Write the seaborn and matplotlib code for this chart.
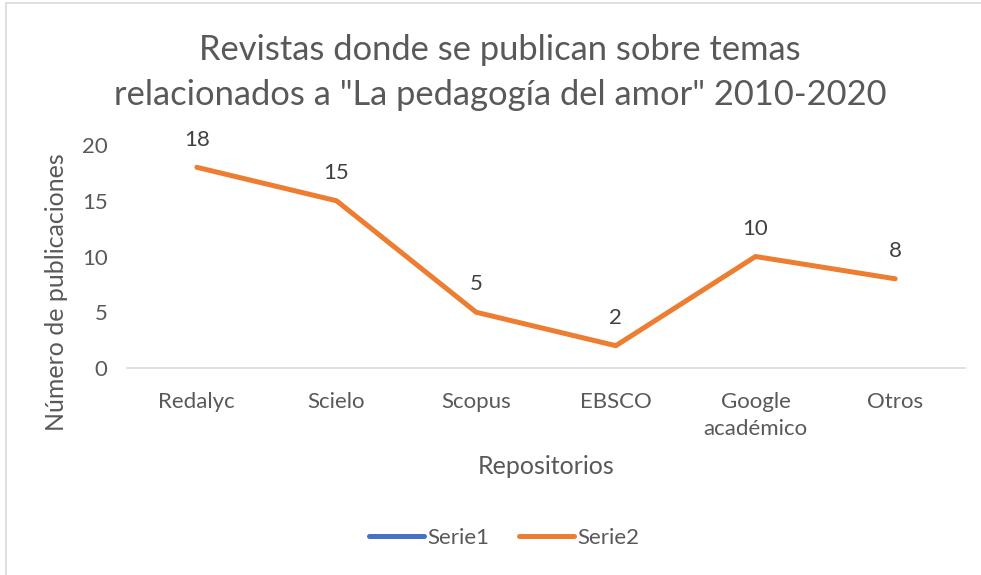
import pandas as pd
import seaborn as sns
import matplotlib.pyplot as plt
from matplotlib.lines import Line2D
from matplotlib.patches import Rectangle

# Data
repositorios = ['Redalyc', 'Scielo', 'Scopus', 'EBSCO', 'Google\nacadémico', 'Otros']
serie1 = []  # empty series, only shown in the legend
serie2 = [18, 15, 5, 2, 10, 8]

df = pd.DataFrame({'repo': repositorios, 'valor': serie2})

sns.set_style('white')
plt.rcParams['font.family'] = ['Lato', 'DejaVu Sans']

gray = '#595959'
orange = '#ED7D31'
blue = '#4472C4'

fig = plt.figure(figsize=(9.81, 5.75), dpi=100)
ax = fig.add_axes([0.1295, 0.36, 0.8542, 0.3878])

sns.lineplot(data=df, x='repo', y='valor', sort=False, color=orange,
             linewidth=3.6, ax=ax, solid_capstyle='round', solid_joinstyle='round')

# data labels
for i, v in enumerate(serie2):
    ax.annotate(str(v), (i, v), xytext=(0, 20), textcoords='offset points',
                ha='center', va='center', fontsize=16, color='#404040')

ax.set_xlim(-0.5, len(repositorios) - 0.5)
ax.set_ylim(0, 20)
ax.set_yticks([0, 5, 10, 15, 20])
ax.tick_params(axis='both', colors=gray, labelsize=16, length=0)
ax.tick_params(axis='y', pad=14)
ax.tick_params(axis='x', pad=17)
for lbl in ax.get_xticklabels():
    lbl.set_verticalalignment('top')
    lbl.set_linespacing(1.45)

for s in ['top', 'right', 'left']:
    ax.spines[s].set_visible(False)
ax.spines['bottom'].set_color('#D9D9D9')
ax.spines['bottom'].set_linewidth(1.2)
ax.grid(False)

ax.set_xlabel('Repositorios', fontsize=18, color=gray, labelpad=12)
ax.set_ylabel('Número de publicaciones', fontsize=18, color=gray)
ax.yaxis.set_label_coords(-0.0705, 0.34)

fig.text(0.51, 0.874, 'Revistas donde se publican sobre temas\nrelacionados a "La pedagogía del amor" 2010-2020',
         ha='center', va='center', fontsize=24.8, color=gray, linespacing=1.5)

handles = [Line2D([], [], color=blue, linewidth=3.6, solid_capstyle='round'),
           Line2D([], [], color=orange, linewidth=3.6, solid_capstyle='round')]
fig.legend(handles, ['Serie1', 'Serie2'], loc='center', bbox_to_anchor=(0.514, 0.064),
           ncol=2, frameon=False, fontsize=16, labelcolor=gray,
           handlelength=2.5, handletextpad=0.15, columnspacing=1.3)

# chart border
fig.patches.append(Rectangle((6 / 981, -0.05), 1.2, 1.05 - 3 / 575, transform=fig.transFigure,
                             fill=False, edgecolor='#D9D9D9', linewidth=1.2))

fig.savefig('out.png', dpi=100)
